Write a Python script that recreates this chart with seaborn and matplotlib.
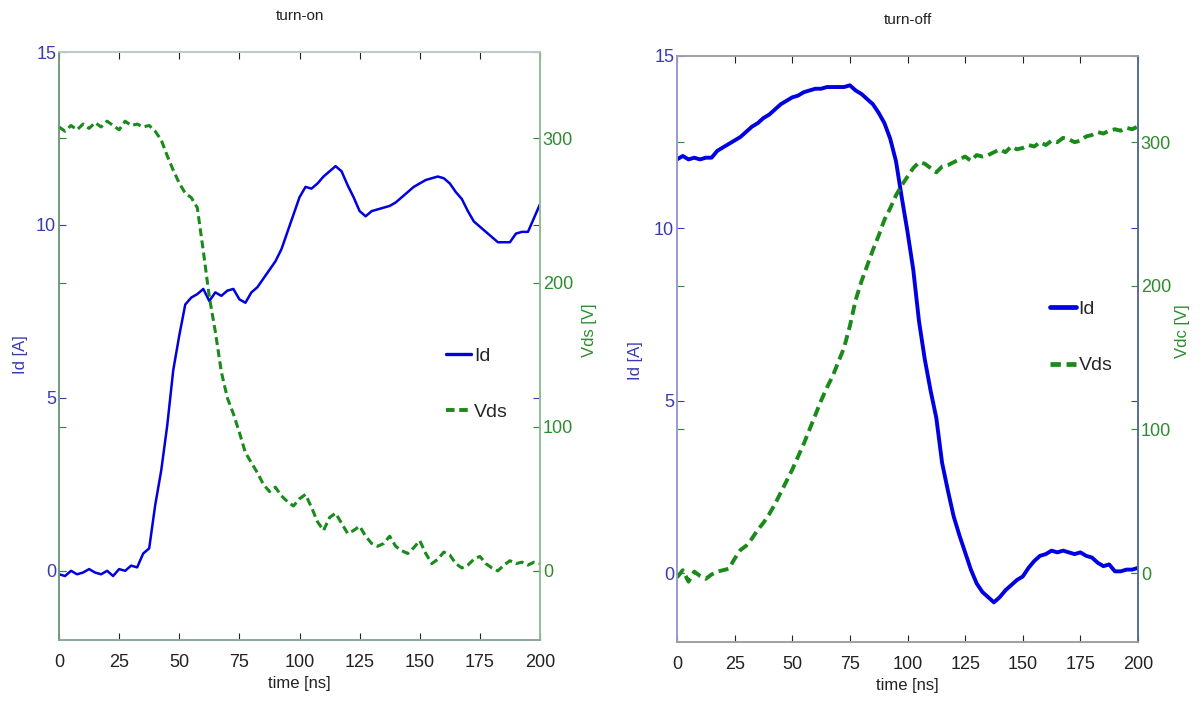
import numpy as np
import pandas as pd
import matplotlib
matplotlib.use("Agg")
import matplotlib.pyplot as plt
import seaborn as sns
from matplotlib.lines import Line2D

# ---------------- data ----------------
t = np.arange(0, 200.01, 2.5)

id_on = [-0.1, -0.15, 0.0, -0.1, -0.05, 0.05, -0.05, -0.1, 0.0, -0.15,
         0.05, 0.0, 0.15, 0.1, 0.5, 0.65, 1.9, 2.9, 4.2, 5.8,
         6.8, 7.7, 7.9, 8.0, 8.15, 7.8, 8.05, 7.95, 8.1, 8.15,
         7.85, 7.75, 8.05, 8.2, 8.45, 8.7, 8.95, 9.3, 9.8, 10.3,
         10.8, 11.1, 11.05, 11.2, 11.4, 11.55, 11.7, 11.55, 11.15, 10.8,
         10.4, 10.25, 10.4, 10.45, 10.5, 10.55, 10.65, 10.8, 10.95, 11.1,
         11.2, 11.3, 11.35, 11.4, 11.35, 11.2, 10.95, 10.75, 10.4, 10.1,
         9.95, 9.8, 9.65, 9.5, 9.5, 9.5, 9.75, 9.8, 9.8, 10.2,
         10.6]

vds_on = [308, 305, 309, 306, 310, 307, 311, 308, 312, 309,
          306, 312, 309, 310, 308, 309, 305, 299, 288, 278,
          269, 262, 259, 252, 222, 190, 166, 138, 120, 109,
          96, 82, 75, 68, 60, 55, 58, 52, 48, 45,
          50, 53, 44, 34, 28, 37, 40, 33, 26, 28,
          31, 24, 19, 17, 19, 24, 17, 14, 12, 16,
          21, 12, 5, 8, 13, 11, 5, 2, 4, 8,
          10, 5, 2, 0, 4, 7, 5, 6, 4, 6,
          5]

id_off = [12.0, 12.1, 12.0, 12.05, 12.0, 12.05, 12.05, 12.25, 12.35, 12.45,
          12.55, 12.65, 12.8, 12.95, 13.05, 13.2, 13.3, 13.45, 13.6, 13.7,
          13.8, 13.85, 13.95, 14.0, 14.05, 14.05, 14.1, 14.1, 14.1, 14.1,
          14.15, 14.0, 13.9, 13.75, 13.6, 13.35, 13.05, 12.6, 11.95, 10.9,
          9.9, 8.8, 7.3, 6.2, 5.3, 4.5, 3.2, 2.4, 1.65, 1.1,
          0.6, 0.1, -0.3, -0.55, -0.7, -0.85, -0.7, -0.5, -0.35, -0.2,
          -0.1, 0.15, 0.35, 0.5, 0.55, 0.65, 0.6, 0.65, 0.6, 0.55,
          0.6, 0.5, 0.45, 0.3, 0.2, 0.25, 0.05, 0.05, 0.1, 0.1,
          0.15]

vds_off = [-3, 2, -6, 1, -2, -4, -1, 1, 2, 3,
           10, 16, 19, 24, 30, 35, 41, 48, 56, 64,
           72, 81, 90, 100, 110, 120, 129, 137, 147, 157,
           172, 190, 203, 214, 225, 235, 246, 254, 263, 270,
           276, 282, 286, 285, 282, 279, 283, 284, 286, 288,
           290, 287, 291, 290, 291, 293, 295, 293, 297, 295,
           296, 298, 297, 300, 298, 301, 300, 303, 302, 300,
           301, 304, 305, 307, 306, 308, 309, 308, 310, 309,
           311]

titles = ["turn-on", "turn-off"]
right_labels = ["Vds [V]", "Vdc [V]"]
x_ticks = [0, 25, 50, 75, 100, 125, 150, 175, 200]
id_ticks = [0, 5, 10, 15]
v_ticks = [0, 100, 200, 300]

# ---------------- style ----------------
sns.set_style("white")
plt.rcParams["font.family"] = ["Liberation Sans", "DejaVu Sans"]

BLUE = "#0000e0"
GREEN = "#1a8a1a"
BLUE_TXT = "#3a3ab0"
GREEN_TXT = "#2e8b2e"

fig = plt.figure(figsize=(12, 7.02), dpi=100)

positions = [
    [59 / 1200, 1 - 640 / 702, 481 / 1200, 588 / 702],
    [677 / 1200, 1 - 642 / 702, 461 / 1200, 586 / 702],
]
id_lw = [1.8, 2.8]
v_lw = [2.2, 2.8]
spine_cols = [
    dict(left="#6f9a80", right="#8fbf8f", top="#b8ccc0", bottom="#8aa898"),
    dict(left="#9a9ad0", right="#56708f", top="#a0a0a0", bottom="#a0a0a0"),
]
leg_anchor = [(0.805, 0.435), (0.81, 0.52)]
ylab_pos = [((-0.064, 0.485), (1.088, 0.527)), ((-0.073, 0.48), (1.08, 0.53))]

datasets = [(id_on, vds_on), (id_off, vds_off)]

for i in range(2):
    ax = fig.add_axes(positions[i])
    ax2 = ax.twinx()
    idv, vv = datasets[i]
    df = pd.DataFrame({"t": t, "Id": idv, "Vds": vv})

    sns.lineplot(data=df, x="t", y="Id", ax=ax, color=BLUE, linewidth=id_lw[i], label="Id", legend=False)
    sns.lineplot(data=df, x="t", y="Vds", ax=ax2, color=GREEN, linewidth=v_lw[i], linestyle="--",
                 label="Vds", legend=False)
    for ln in ax2.get_lines():
        ln.set_dashes((2.6, 1.4))

    ax.set_xlim(0, 200)
    ax.set_ylim(-2, 15)
    ax2.set_ylim(-48, 360)
    ax.set_xticks(x_ticks)
    ax.set_yticks(id_ticks)
    ax2.set_yticks(v_ticks)
    ax.set_xticklabels([str(v) for v in x_ticks])

    ax.tick_params(axis="x", direction="in", length=5, top=True, bottom=True, labelsize=13,
                   pad=10, colors="#222222")
    ax.tick_params(axis="y", direction="in", length=5, left=True, right=True, labelleft=True,
                   labelright=False, labelsize=13, pad=2, colors=BLUE_TXT)
    ax2.tick_params(axis="y", direction="in", length=5, left=True, right=True, labelleft=False,
                    labelright=True, labelsize=13, pad=2, colors=GREEN_TXT)

    ax.set_xlabel("time [ns]", fontsize=12, color="#222222", labelpad=4)
    ax.set_ylabel("Id [A]", fontsize=12, color=BLUE_TXT)
    ax2.set_ylabel(right_labels[i], fontsize=12, color=GREEN_TXT)
    ax.yaxis.set_label_coords(*ylab_pos[i][0])
    ax2.yaxis.set_label_coords(*ylab_pos[i][1])
    ax.set_title(titles[i], fontsize=11, color="#222222", pad=23)

    for s in ["left", "right", "top", "bottom"]:
        ax.spines[s].set_visible(True)
        ax2.spines[s].set_visible(True)
        ax.spines[s].set_color(spine_cols[i][s])
        ax2.spines[s].set_color(spine_cols[i][s])
        ax.spines[s].set_linewidth(1.2)
        ax2.spines[s].set_linewidth(1.2)

    handles = [Line2D([], [], color=BLUE, lw=id_lw[i] + 0.6),
               Line2D([], [], color=GREEN, lw=v_lw[i] + 0.6, linestyle=(0, (2.2, 1.2)))]
    leg = ax2.legend(handles, ["Id", "Vds"], loc="center left", bbox_to_anchor=leg_anchor[i],
                     frameon=False, fontsize=14, handlelength=1.3, handletextpad=0.15,
                     labelspacing=2.0, borderaxespad=0, borderpad=0)

fig.savefig("out.png", dpi=100)
